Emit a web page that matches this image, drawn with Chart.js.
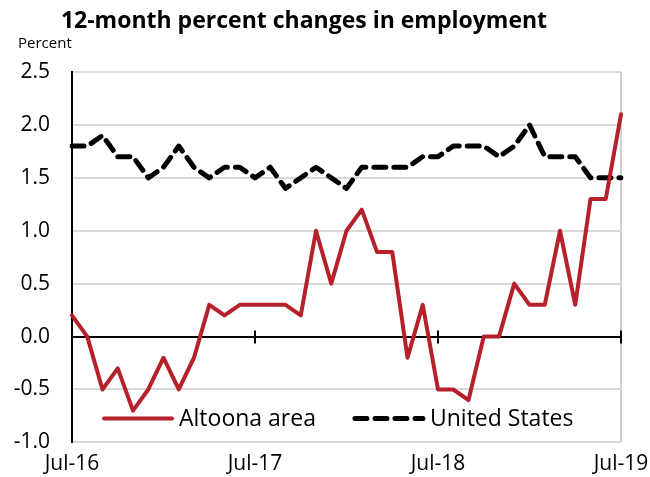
<!DOCTYPE html>
<html>
<head>
<meta charset="utf-8">
<title>12-month percent changes in employment</title>
<script src="https://cdn.jsdelivr.net/npm/chart.js@4.4.1/dist/chart.umd.min.js"></script>
<style>
    html, body { margin: 0; padding: 0; background: #fff; }
    #wrap { width: 650px; height: 477px; position: relative; }
</style>
</head>
<body>
<div id="wrap"><canvas id="chart"></canvas></div>
<script>
// monthly, Jul-16 .. Jul-19
const months = ['Jul-16','Aug-16','Sep-16','Oct-16','Nov-16','Dec-16','Jan-17','Feb-17','Mar-17','Apr-17','May-17','Jun-17',
                'Jul-17','Aug-17','Sep-17','Oct-17','Nov-17','Dec-17','Jan-18','Feb-18','Mar-18','Apr-18','May-18','Jun-18',
                'Jul-18','Aug-18','Sep-18','Oct-18','Nov-18','Dec-18','Jan-19','Feb-19','Mar-19','Apr-19','May-19','Jun-19',
                'Jul-19'];
const altoona = [0.2, 0.0, -0.5, -0.3, -0.7, -0.5, -0.2, -0.5, -0.2, 0.3, 0.2, 0.3,
                 0.3, 0.3, 0.3, 0.2, 1.0, 0.5, 1.0, 1.2, 0.8, 0.8, -0.2, 0.3,
                 -0.5, -0.5, -0.6, 0.0, 0.0, 0.5, 0.3, 0.3, 1.0, 0.3, 1.3, 1.3,
                 2.1];
const unitedStates = [1.8, 1.8, 1.9, 1.7, 1.7, 1.5, 1.6, 1.8, 1.6, 1.5, 1.6, 1.6,
                      1.5, 1.6, 1.4, 1.5, 1.6, 1.5, 1.4, 1.6, 1.6, 1.6, 1.6, 1.7,
                      1.7, 1.8, 1.8, 1.8, 1.7, 1.8, 2.0, 1.7, 1.7, 1.7, 1.5, 1.5,
                      1.5];
const seriesNames = ['Altoona area', 'United States'];
const yMin = -1.0;
const yMax = 2.5;
const yStep = 0.5;

const FONT = '"Open Sans", "Noto Sans", sans-serif';

// title + "Percent" label above the plot
const headerText = {
    id: 'headerText',
    afterDraw(chart) {
        const ctx = chart.ctx;
        ctx.save();
        ctx.fillStyle = '#000';
        ctx.textBaseline = 'alphabetic';
        ctx.textAlign = 'center';
        ctx.font = 'bold 23px ' + FONT;
        ctx.fillText('12-month percent changes in employment', 304, 28);
        ctx.textAlign = 'left';
        ctx.font = '15px ' + FONT;
        ctx.fillText('Percent', 18, 48);
        ctx.restore();
    }
};

// small tick marks on the zero line at each July
const zeroTicks = {
    id: 'zeroTicks',
    afterDatasetsDraw(chart) {
        const ctx = chart.ctx;
        const x = chart.scales.x;
        const y0 = chart.scales.y.getPixelForValue(0);
        ctx.save();
        ctx.strokeStyle = '#000';
        ctx.lineWidth = 2;
        months.forEach((m, i) => {
            if (i > 0 && m.startsWith('Jul')) {
                const px = x.getPixelForValue(i);
                ctx.beginPath();
                ctx.moveTo(px, y0 - 6);
                ctx.lineTo(px, y0 + 7);
                ctx.stroke();
            }
        });
        ctx.restore();
    }
};

// legend sits inside the plot, near the bottom
const insideLegend = {
    id: 'insideLegend',
    afterDatasetsDraw(chart) {
        const ctx = chart.ctx;
        const area = chart.chartArea;
        const y = area.bottom - 24;
        let x = area.left + 30;
        ctx.save();
        ctx.font = '23px ' + FONT;
        ctx.textBaseline = 'alphabetic';
        ctx.textAlign = 'left';
        chart.data.datasets.forEach(ds => {
            ctx.beginPath();
            ctx.strokeStyle = ds.borderColor;
            ctx.lineWidth = ds.borderWidth;
            ctx.lineCap = ds.borderCapStyle || 'butt';
            ctx.setLineDash(ds.borderDash || []);
            ctx.moveTo(x + 2, y);
            ctx.lineTo(x + 70, y);
            ctx.stroke();
            ctx.setLineDash([]);
            ctx.fillStyle = '#000';
            ctx.fillText(ds.label, x + 77, y + 8);
            x += 77 + ctx.measureText(ds.label).width + 37;
        });
        ctx.restore();
    }
};

new Chart(document.getElementById('chart'), {
    type: 'line',
    data: {
        labels: months,
        datasets: [{
            label: seriesNames[0],
            data: altoona,
            borderColor: '#B5202A',
            borderWidth: 4,
            borderCapStyle: 'round',
            borderJoinStyle: 'round',
            pointRadius: 0,
            tension: 0,
            fill: false
        }, {
            label: seriesNames[1],
            data: unitedStates,
            borderColor: '#000',
            borderWidth: 5,
            borderDash: [12, 8],
            borderCapStyle: 'round',
            borderJoinStyle: 'round',
            pointRadius: 0,
            tension: 0,
            fill: false
        }]
    },
    options: {
        responsive: true,
        maintainAspectRatio: false,
        animation: false,
        layout: { padding: { top: 72, left: 0, right: 0, bottom: 0 } },
        plugins: {
            legend: { display: false },
            title: { display: false },
            tooltip: { enabled: false }
        },
        scales: {
            x: {
                type: 'category',
                offset: false,
                border: { display: false },
                grid: {
                    drawTicks: false,
                    lineWidth: 2,
                    color: ctx => ctx.index === months.length - 1 ? '#d0d0d0' : 'rgba(0,0,0,0)'
                },
                ticks: {
                    autoSkip: false,
                    maxRotation: 0,
                    padding: 9,
                    color: '#000',
                    font: { family: FONT, size: 21 },
                    callback: (val, i) => months[i].startsWith('Jul') ? months[i] : ''
                },
                afterFit: s => { s.height = 34; s.paddingRight = 29; }
            },
            y: {
                min: yMin,
                max: yMax,
                border: { color: '#000', width: 2 },
                grid: {
                    drawTicks: false,
                    lineWidth: 2,
                    color: ctx => ctx.tick.value === 0 ? '#000' : '#d9d9d9'
                },
                ticks: {
                    stepSize: yStep,
                    padding: 22,
                    color: '#000',
                    font: { family: FONT, size: 21 },
                    callback: v => v.toFixed(1)
                },
                afterFit: s => { s.width = 72; }
            }
        }
    },
    plugins: [headerText, zeroTicks, insideLegend]
});
</script>
</body>
</html>
